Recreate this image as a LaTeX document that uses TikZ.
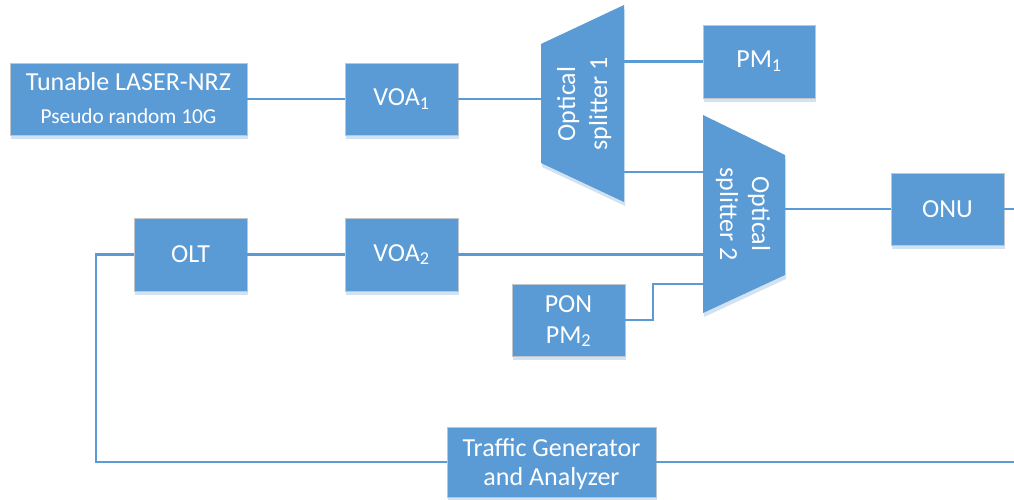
\documentclass[tikz,border=0pt]{standalone}
\usepackage{fontspec}
\setmainfont{Carlito}
\usetikzlibrary{shadows}
\definecolor{boxblue}{HTML}{5B9BD5}
\definecolor{shadowblue}{HTML}{D3E2F1}
\definecolor{boxedge}{HTML}{BFC6CE}
\begin{document}
\begin{tikzpicture}[x=1pt,y=-1pt,
  blk/.style={draw=boxedge, line width=0.8pt, fill=boxblue, text=white, inner sep=0pt, align=center,
    font=\fontsize{26}{30}\selectfont,
    drop shadow={shadow xshift=1pt, shadow yshift=-4pt, fill=shadowblue, opacity=1}},
  txt/.style={text=white, inner sep=0pt, anchor=base, font=\fontsize{26}{30}\selectfont},
  wire/.style={draw=boxblue, line width=2.2pt},
  trap/.style={fill=boxblue},
  trapshadow/.style={fill=shadowblue}]
\useasboundingbox (0,0) rectangle (1014,500);
% boxes
\node[blk, minimum width=237pt, minimum height=72pt] (laser) at (128.5,99) {};
\node[txt] (lasert1) at (128.5,91) {Tunable LASER-NRZ};
\node[txt, font=\fontsize{21.3}{25}\selectfont] (lasert2) at (128.5,124) {Pseudo random 10G};
\node[blk, minimum width=113pt, minimum height=72pt] (voa1) at (401.5,99) {VOA\textsubscript{1}};
\node[blk, minimum width=112pt, minimum height=73pt] (pm1) at (759,61.5) {PM\textsubscript{1}};
\node[blk, minimum width=113pt, minimum height=72pt] (onu) at (947.5,209) {ONU};
\node[blk, minimum width=113pt, minimum height=73pt] (olt) at (190.5,254.5) {OLT};
\node[blk, minimum width=113pt, minimum height=73pt] (voa2) at (401.5,254.5) {VOA\textsubscript{2}};
\node[blk, minimum width=113pt, minimum height=72pt] (pon) at (568.5,320) {};
\node[txt] (pont1) at (568.5,312) {PON};
\node[txt] (pont2) at (568.5,343) {PM\textsubscript{2}};
\node[blk, minimum width=209pt, minimum height=70pt] (tga) at (551.5,462) {};
\node[txt] (tgat1) at (551.5,456) {Traffic Generator};
\node[txt] (tgat2) at (551.5,485) {and Analyzer};
% splitter 1
\path[trapshadow, yshift=-4pt, xshift=1pt] (541,44) -- (624,5) -- (624,202) -- (541,163) -- cycle;
\path[trap] (541,44) -- (624,5) -- (624,202) -- (541,163) -- cycle;
\node[txt, rotate=90] (sp1a) at (575,104) {Optical};
\node[txt, rotate=90] (sp1b) at (607,104) {splitter 1};
% splitter 2
\path[trapshadow, yshift=-4pt, xshift=1pt] (703,115) -- (785,155) -- (785,275) -- (703,313) -- cycle;
\path[trap] (703,115) -- (785,155) -- (785,275) -- (703,313) -- cycle;
\node[txt, rotate=-90] (sp2a) at (752,214) {Optical};
\node[txt, rotate=-90] (sp2b) at (720,214) {splitter 2};
% connection points
\coordinate (s1in) at (541,99);
\coordinate (s1o1) at (624,61.5);
\coordinate (s1o2) at (624,172);
\coordinate (s2a) at (703,172);
\coordinate (s2b) at (703,254.5);
\coordinate (s2c) at (703,284);
\coordinate (s2out) at (785,209);
\coordinate (right1) at (1014,209);
\coordinate (right2) at (1014,462);
\coordinate (corner) at (96,462);
\coordinate (jog) at (653,284);
% wires
\draw[wire] (laser.east) -- (voa1.west);
\draw[wire] (voa1.east) -- (s1in);
\draw[wire] (s1o1) -- (pm1.west);
\draw[wire] (s1o2) -- (s2a);
\draw[wire] (s2out) -- (onu.west);
\draw[wire] (onu.east) -- (right1);
\draw[wire] (voa2.east) -- (s2b);
\draw[wire] (olt.east) -- (voa2.west);
\draw[wire] (pon.east) -| (jog) -- (s2c);
\draw[wire] (olt.west) -| (corner) -- (tga.west);
\draw[wire] (tga.east) -- (right2);
\end{tikzpicture}
\end{document}
